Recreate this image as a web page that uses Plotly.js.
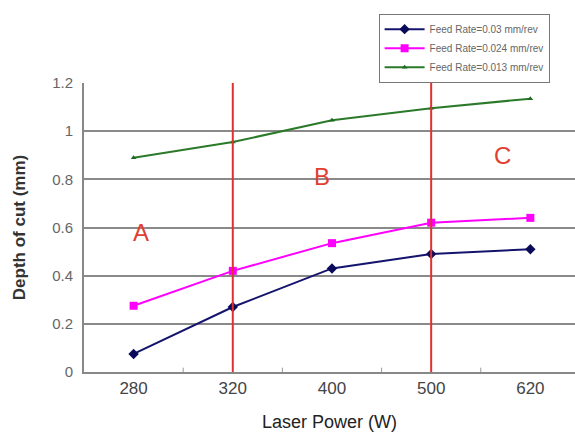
<!DOCTYPE html>
<html><head><meta charset="utf-8">
<script src="https://cdn.plot.ly/plotly-3.0.1.min.js"></script>
<style>body{margin:0;background:#fff}#chart{width:575px;height:434px}</style>
</head><body><div id="chart"></div>
<script>
const categories = ['280', '320', '400', '500', '620'];
const feed003 = [0.075, 0.27, 0.43, 0.49, 0.51];
const feed0024 = [0.275, 0.42, 0.535, 0.62, 0.64];
const feed0013 = [0.89, 0.955, 1.045, 1.095, 1.135];
const seriesNames = ['Feed Rate=0.03 mm/rev', 'Feed Rate=0.024 mm/rev', 'Feed Rate=0.013 mm/rev'];
const yTickVals = [0, 0.2, 0.4, 0.6, 0.8, 1, 1.2];
const yTickText = ['0', '0.2', '0.4', '0.6', '0.8', '1', '1.2'];
const regionLabels = ['A', 'B', 'C'];
const regionX = [0.07, 1.9, 3.72];
const regionY = [0.58, 0.81, 0.9];
const boundaryCats = [1, 3];

const idx = categories.map((c, i) => i);
const traces = [
  {x: idx, y: feed003, name: seriesNames[0], mode: 'lines+markers',
   line: {color: '#14146e', width: 2}, marker: {symbol: 'diamond', size: 8, color: '#0a0a5a'}},
  {x: idx, y: feed0024, name: seriesNames[1], mode: 'lines+markers',
   line: {color: '#ff00ff', width: 2}, marker: {symbol: 'square', size: 8, color: '#ff00ff'}},
  {x: idx, y: feed0013, name: seriesNames[2], mode: 'lines+markers',
   line: {color: '#2a7a2a', width: 2}, marker: {symbol: 'triangle-up', size: 5, color: '#1f6a1f'}}
];

const layout = {
  width: 575, height: 434,
  margin: {l: 84, r: 0, t: 83, b: 62},
  paper_bgcolor: '#fff', plot_bgcolor: '#fff',
  showlegend: true,
  legend: {x: 0.6, y: 1.24, xanchor: 'left', yanchor: 'top',
    bgcolor: '#fff', bordercolor: '#777', borderwidth: 1,
    font: {family: 'Arial, Liberation Sans', size: 10, color: '#666'},
    tracegroupgap: 0, itemwidth: 40},
  xaxis: {
    range: [-0.5, 4.45], tickmode: 'array', tickvals: idx, ticktext: categories,
    showgrid: false, zeroline: false, showline: true, linecolor: '#888', linewidth: 2,
    ticks: '', tickfont: {family: 'Arial, Liberation Sans', size: 17, color: '#444'},
    title: {text: 'Laser Power (W)', font: {family: 'Arial, Liberation Sans', size: 18, color: '#222'}, standoff: 18}
  },
  yaxis: {
    range: [0, 1.2], tickmode: 'array', tickvals: yTickVals, ticktext: yTickText,
    showgrid: true, gridcolor: '#8a8a8a', gridwidth: 2,
    zeroline: false, showline: true, linecolor: '#888', linewidth: 2,
    ticks: '', ticklabelstandoff: 6, tickfont: {family: 'Arial, Liberation Sans', size: 15, color: '#666'},
    title: {text: '<b>Depth of cut (mm)</b>', font: {family: 'Arial, Liberation Sans', size: 17, color: '#333'}, standoff: 22}
  },
  shapes: boundaryCats.map(c => ({type: 'line', xref: 'x', yref: 'paper', x0: c, x1: c, y0: 0, y1: 1,
    line: {color: '#e03030', width: 2}})).concat(
    [0.5, 1.5, 2.5, 3.5].map(c => ({type: 'line', xref: 'x', yref: 'paper', x0: c, x1: c, y0: 0, y1: 0.015,
    line: {color: '#999', width: 1}}))),
  annotations: regionLabels.map((t, i) => ({x: regionX[i], y: regionY[i], xref: 'x', yref: 'y', text: t,
    showarrow: false, font: {family: 'Arial, Liberation Sans', size: 24, color: '#e04030'}}))
};

Plotly.newPlot('chart', traces, layout, {displayModeBar: false, staticPlot: true});
</script></body></html>
